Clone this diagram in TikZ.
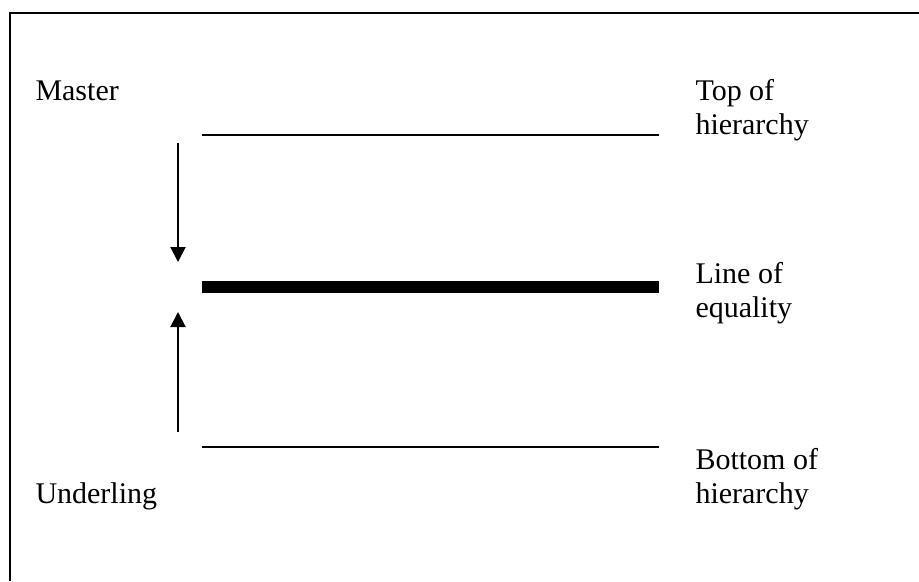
\documentclass[tikz,border=0pt]{standalone}
\usepackage{fontspec}
\setmainfont{Liberation Serif}
\usetikzlibrary{arrows.meta, positioning}

\begin{document}
\begin{tikzpicture}[
    x=0.4pt, y=-0.4pt,
    label/.style={anchor=base west, inner sep=0pt, align=left, font=\fontsize{12pt}{13.6pt}\selectfont},
    level/.style={line width=0.75pt},
    equal/.style={line width=4.5pt},
    arrow/.style={-{Triangle[length=6pt, width=6pt]}, line width=0.8pt}
]
    \useasboundingbox (0,0) rectangle (919,581);
    % frame
    \draw[line width=0.8pt] (10,581) -- (10,13) -- (919,13);

    % the three levels
    \coordinate (topL) at (202,135);   \coordinate (topR) at (659,135);
    \coordinate (eqL) at (202,287);    \coordinate (eqR) at (659,287);
    \coordinate (botL) at (202,447);   \coordinate (botR) at (659,447);
    \draw[level] (topL) -- (topR);
    \draw[equal] (eqL) -- (eqR);
    \draw[level] (botL) -- (botR);

    % labels (base is the last line)
    \node[label] (master) at (35,100) {Master};
    \node[label] (underling) at (35,503) {Underling};
    \node[label] (top) at (695,134) {Top of\\hierarchy};
    \node[label] (equality) at (695,317) {Line of\\equality};
    \node[label] (bottom) at (695,503) {Bottom of\\hierarchy};

    % arrows towards equality
    \coordinate (downS) at (178,143); \coordinate (downE) at (178,262);
    \coordinate (upS) at (178,432);   \coordinate (upE) at (178,312);
    \draw[arrow] (downS) -- (downE);
    \draw[arrow] (upS) -- (upE);
\end{tikzpicture}
\end{document}
